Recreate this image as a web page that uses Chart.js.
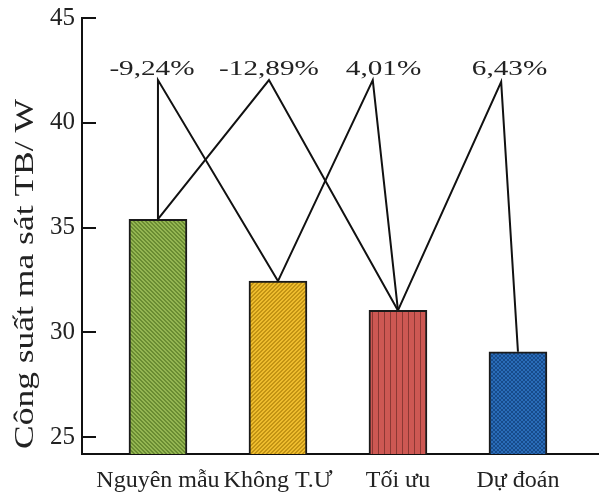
<!DOCTYPE html>
<html>
<head>
<meta charset="utf-8">
<title>Công suất ma sát</title>
<script src="https://cdn.jsdelivr.net/npm/chart.js@4.4.1/dist/chart.umd.min.js"></script>
<style>
  body { margin: 0; background: #fff; }
  canvas { display: block; }
</style>
</head>
<body>
<canvas id="myChart" width="601" height="498"></canvas>
<script>
// values
const categories = ["Nguyên mẫu", "Không T.Ư", "Tối ưu", "Dự đoán"];
const values = [35.4, 32.45, 31.05, 29.08];
const yTicks = [25, 30, 35, 40, 45];

// comparisons: which two bars, the text, where the apex / label sit (data units)
const pairs = [[0, 1], [0, 2], [1, 2], [2, 3]];
const pctLabels = ["-9,24%", "-12,89%", "4,01%", "6,43%"];
const apexX = [0, 0.925, 1.79, 2.86];
const apexY = [42.04, 42.04, 42.04, 41.95];
const labelX = [-0.05, 0.925, 1.88, 2.93];
const labelY = 42.28;

// small tiles for the hatch fills
const makePattern = function (size, base, dark, cells) {
  const c = document.createElement("canvas");
  c.width = size;
  c.height = size;
  const g = c.getContext("2d");
  g.fillStyle = base;
  g.fillRect(0, 0, size, size);
  g.fillStyle = dark;
  cells.forEach(function (p) { g.fillRect(p[0], p[1], 1, 1); });
  return g.createPattern(c, "repeat");
};

const fills = [
  makePattern(4, "#94b652", "#6a8c32", [[0,0],[1,1],[2,2],[3,3],[1,0],[2,1],[3,2],[0,3]]),
  makePattern(4, "#eebc2e", "#c29314", [[3,0],[2,1],[1,2],[0,3],[0,0],[3,1],[2,2],[1,3]]),
  makePattern(6, "#cd5853", "#8c3833", [[0,0],[0,1],[0,2],[0,3],[0,4],[0,5]]),
  makePattern(4, "#2a6cb8", "#174b8b", [[0,0],[1,1],[2,2],[3,3],[3,0],[2,1],[1,2],[0,3]])
];

// bar dataset + one polyline per comparison
const barData = values.map(function (v, i) { return { x: i, y: v }; });
const lineSets = pairs.map(function (p, k) {
  return {
    type: "line",
    data: [
      { x: p[0], y: values[p[0]] },
      { x: apexX[k], y: apexY[k] },
      { x: p[1], y: values[p[1]] }
    ],
    borderColor: "#111",
    borderWidth: 2,
    pointRadius: 0,
    tension: 0,
    fill: false
  };
});

// inner ticks, percentage texts and the y title
const extras = {
  id: "extras",
  afterDraw(chart) {
    const ctx = chart.ctx;
    const x = chart.scales.x;
    const y = chart.scales.y;
    ctx.save();
    ctx.strokeStyle = "#111";
    ctx.lineWidth = 2;
    yTicks.forEach(function (v) {
      const py = Math.round(y.getPixelForValue(v));
      ctx.beginPath();
      ctx.moveTo(x.left, py);
      ctx.lineTo(x.left + 14, py);
      ctx.stroke();
    });

    ctx.fillStyle = "#222";
    ctx.font = "20px 'Liberation Serif'";
    ctx.textAlign = "center";
    ctx.textBaseline = "alphabetic";
    pctLabels.forEach(function (t, i) {
      ctx.save();
      ctx.translate(x.getPixelForValue(labelX[i]), y.getPixelForValue(labelY));
      ctx.scale(1.46, 1);
      ctx.fillText(t, 0, 0);
      ctx.restore();
    });

    const title = "Công suất ma sát TB/ W";
    ctx.font = "28px 'Liberation Serif'";
    const w = ctx.measureText(title).width;
    ctx.translate(33, y.bottom - 5);
    ctx.rotate(-Math.PI / 2);
    ctx.scale(350 / w, 1);
    ctx.textAlign = "left";
    ctx.fillText(title, 0, 0);
    ctx.restore();
  }
};

const ctx = document.getElementById("myChart");
new Chart(ctx, {
  type: "bar",
  data: {
    datasets: [
      {
        data: barData,
        backgroundColor: fills,
        borderColor: "#1a1a1a",
        borderWidth: 2,
        borderSkipped: false,
        barThickness: 58
      }
    ].concat(lineSets)
  },
  options: {
    responsive: false,
    animation: false,
    layout: { padding: { top: 18, right: 3, left: 0, bottom: 0 } },
    plugins: {
      legend: { display: false },
      tooltip: { enabled: false }
    },
    scales: {
      x: {
        type: "linear",
        offset: false,
        min: -0.633,
        max: 3.667,
        afterBuildTicks: function (scale) {
          scale.ticks = categories.map(function (c, i) { return { value: i }; });
        },
        afterFit: function (scale) {
          scale.height = 44;
          scale.paddingLeft = 0;
          scale.paddingRight = 0;
        },
        grid: { display: false, drawTicks: false },
        border: { display: true, color: "#111", width: 2 },
        ticks: {
          autoSkip: false,
          maxRotation: 0,
          padding: 12,
          color: "#222",
          font: { family: "'Liberation Serif'", size: 24 },
          callback: function (v) { return categories[v]; }
        }
      },
      y: {
        min: 24.2,
        max: 45,
        afterBuildTicks: function (scale) {
          scale.ticks = yTicks.map(function (v) { return { value: v }; });
        },
        afterFit: function (scale) {
          scale.width = 82;
          scale.paddingTop = 0;
          scale.paddingBottom = 0;
        },
        grid: { display: false, drawTicks: false },
        border: { display: true, color: "#111", width: 2 },
        ticks: {
          padding: 7,
          color: "#222",
          font: { family: "'Liberation Serif'", size: 25 }
        }
      }
    }
  },
  plugins: [extras]
});
</script>
</body>
</html>
